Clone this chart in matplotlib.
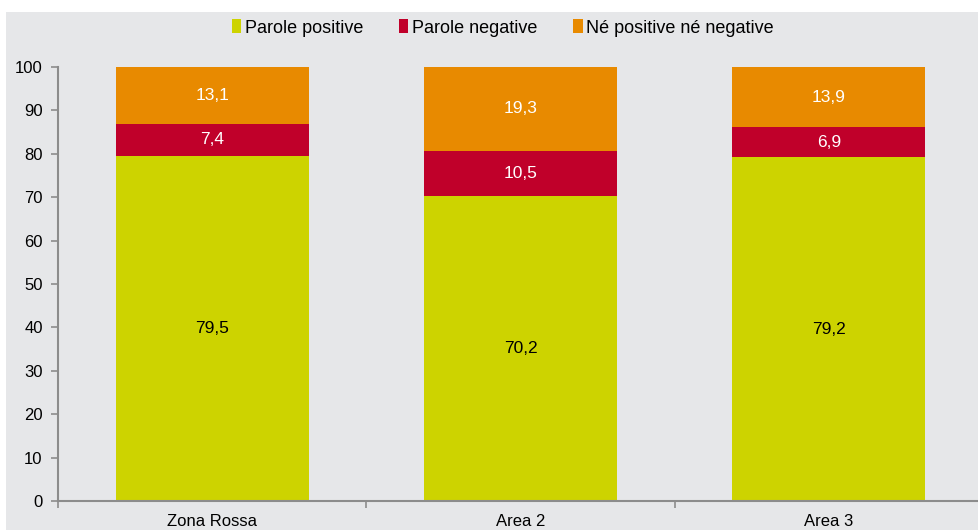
import matplotlib.pyplot as plt
from matplotlib.patches import Rectangle, Patch

plt.rcParams['font.family'] = ['Liberation Sans', 'DejaVu Sans']

categories = ['Zona Rossa', 'Area 2', 'Area 3']
positive = [79.5, 70.2, 79.2]
negative = [7.4, 10.5, 6.9]
neutral = [13.1, 19.3, 13.9]
series_names = ['Parole positive', 'Parole negative', 'Né positive né negative']

colors = ['#cdd300', '#c0002a', '#e88a00']
text_colors = ['black', 'white', 'white']
bg = '#e6e7e9'

fig = plt.figure(figsize=(9.79, 5.30), dpi=100)
fig.patch.set_facecolor('white')
# sfondo grigio (lascia una sottile striscia bianca in alto e a sinistra)
fig.patches.append(Rectangle((6 / 979, 0), 1, (530 - 12) / 530,
                             transform=fig.transFigure, facecolor=bg,
                             edgecolor='none', zorder=-10))

ax = fig.add_axes([58 / 979, 29 / 530, (983 - 58) / 979, (501 - 67) / 530])
ax.set_facecolor(bg)

x = list(range(len(categories)))
bottom = [0] * len(categories)
for vals, col, tcol in zip([positive, negative, neutral], colors, text_colors):
    bars = ax.bar(x, vals, width=0.625, bottom=bottom, color=col, linewidth=0)
    labels = [f'{v:.1f}'.replace('.', ',') for v in vals]
    ax.bar_label(bars, labels=labels, label_type='center', color=tcol, fontsize=12.5)
    bottom = [b + v for b, v in zip(bottom, vals)]

ax.set_xlim(-0.5, 2.5)
ax.set_ylim(0, 100)
ax.set_yticks(range(0, 101, 10))
ax.set_xticks(x)
ax.set_xticklabels(categories)
ax.set_xticks([-0.5, 0.5, 1.5, 2.5], minor=True)
ax.tick_params(axis='x', which='major', length=0, labelsize=12, pad=9)
ax.tick_params(axis='x', which='minor', length=5, color='#8c8c8c', width=1.2)
ax.tick_params(axis='y', length=5, color='#8c8c8c', width=1.2, labelsize=12, pad=6)

for s in ['top', 'right']:
    ax.spines[s].set_visible(False)
for s in ['left', 'bottom']:
    ax.spines[s].set_color('#8c8c8c')
    ax.spines[s].set_linewidth(1.5)

handles = [Patch(facecolor=c, edgecolor='none') for c in colors]
fig.legend(handles, series_names, loc='center', bbox_to_anchor=(503 / 979, 1 - 28 / 530),
           ncol=3, frameon=False, fontsize=13, handlelength=0.5, handleheight=0.8,
           handletextpad=0.2, columnspacing=2.0)

fig.savefig('out.png', dpi=100, facecolor=fig.get_facecolor())
